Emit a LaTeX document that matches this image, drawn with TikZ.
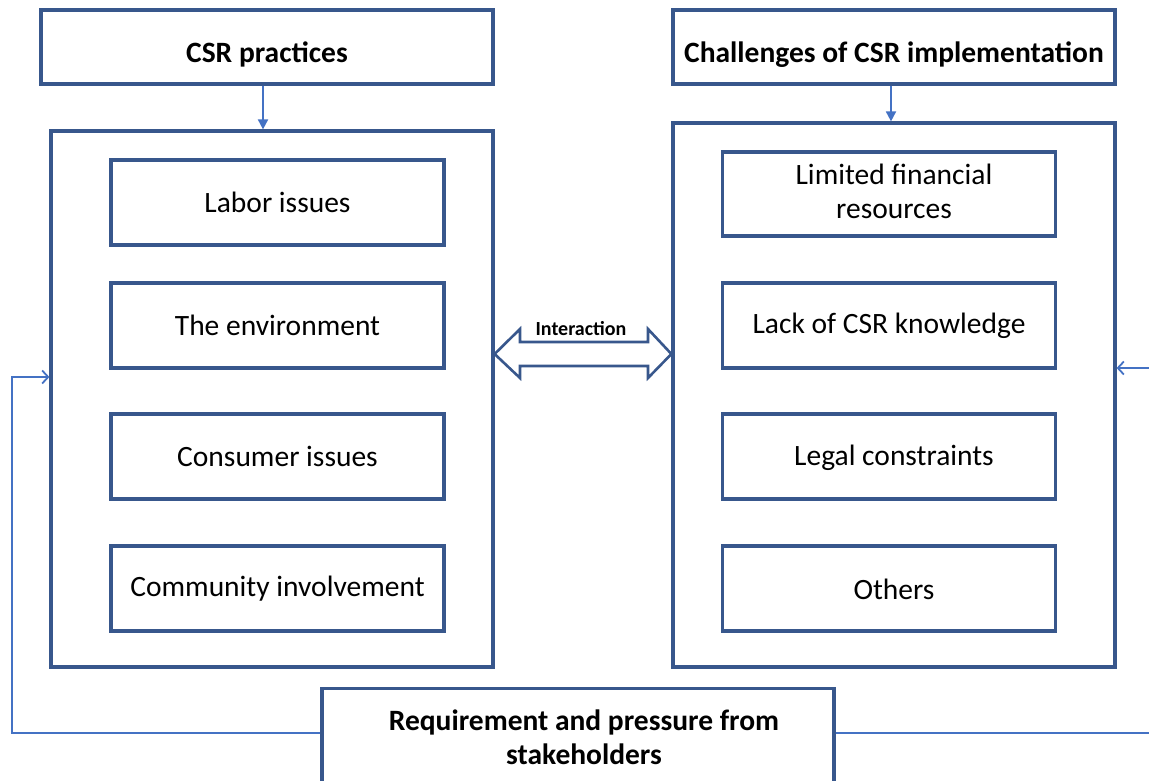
\documentclass[tikz,border=0pt]{standalone}
\usepackage{fontspec}
\setmainfont{Carlito}
\usetikzlibrary{arrows.meta,calc}
\definecolor{boxblue}{RGB}{56,87,140}
\definecolor{linkblue}{RGB}{68,114,196}
\begin{document}
\begin{tikzpicture}[x=1pt,y=-1pt,
  frame/.style={draw=boxblue,line width=3.2pt,fill=white,inner sep=0pt,align=center},
  headbox/.style={frame,font=\bfseries\fontsize{29.5}{34}\selectfont,text height=30pt,text depth=0pt},
  itembox/.style={frame,minimum width=333pt,minimum height=85pt,font=\fontsize{29.5}{34}\selectfont},
  bigbox/.style={draw=boxblue,line width=3.2pt,inner sep=0pt},
  link/.style={draw=linkblue,line width=1.8pt},
  solidtip/.style={link,-{Triangle[length=10pt,width=10pt]}},
  opentip/.style={link,-{Straight Barb[length=6pt,width=13pt,line width=1.8pt]}}
]
\useasboundingbox (0,0) rectangle (1149,780);
% header boxes
\node[headbox,minimum width=452pt,minimum height=74pt] (csr) at (267,47) {CSR practices};
\node[headbox,minimum width=442pt,minimum height=74pt] (chal) at (894,47) {Challenges of CSR implementation};
% big containers
\node[bigbox,minimum width=442pt,minimum height=536pt] (left) at (272,399) {};
\node[bigbox,minimum width=442pt,minimum height=544pt] (right) at (894,395) {};
% left items
\node[itembox] (l1) at (277.5,202.5) {Labor issues};
\node[itembox] (l2) at (277.5,325.5) {The environment};
\node[itembox] (l3) at (277.5,456.5) {Consumer issues};
\node[itembox] (l4) at (277.5,588.5) {Community involvement};
% right items
\node[itembox,minimum height=84pt] (r1) at (889,194) {};
\node[font=\fontsize{29.5}{34}\selectfont,align=center,inner sep=0pt] (r1text) at (894,191) {Limited financial\\resources};
\node[itembox] (r2) at (889,325.5) {Lack of CSR knowledge};
\node[itembox] (r3) at (889,456.5) {};
\node[font=\fontsize{29.5}{34}\selectfont,inner sep=0pt] (r3text) at (894,457.5) {Legal constraints};
\node[itembox] (r4) at (889,588.5) {};
\node[font=\fontsize{29.5}{34}\selectfont,inner sep=0pt] (r4text) at (894,589) {Others};
% bottom box
\node[frame,minimum width=512pt,minimum height=110pt,anchor=north] (stake) at (578,687) {};
\node[font=\bfseries\fontsize{29.5}{34}\selectfont,align=center] (staketext) at (584,737) {Requirement and pressure from\\stakeholders};
% top arrows
\draw[solidtip] (csr.south -| 263,0) -- (left.north -| 263,0);
\draw[solidtip] (chal.south -| 891,0) -- (right.north -| 891,0);
% interaction double arrow
\draw[draw=boxblue,line width=2.6pt,fill=white,line join=miter]
  (left.east |- 0,354) -- (520,329) -- (520,342) -- (648,342) -- (648,329)
  -- (right.west |- 0,354) -- (648,378) -- (648,366) -- (520,366) -- (520,378) -- cycle;
\node[font=\bfseries\fontsize{20}{24}\selectfont] (inter) at (581,329) {Interaction};
% feedback loops
\coordinate (fbl) at (12,733);
\coordinate (fbr) at (1149,733);
\coordinate (fbrin) at (1149,368);
\draw[opentip] (stake.west |- fbl) -- (fbl) -- (12,377) -- (left.west |- 0,377);
\draw[link] (stake.east |- fbr) -- (fbr);
\draw[opentip] (fbrin) -- (right.east |- fbrin);
\end{tikzpicture}
\end{document}
